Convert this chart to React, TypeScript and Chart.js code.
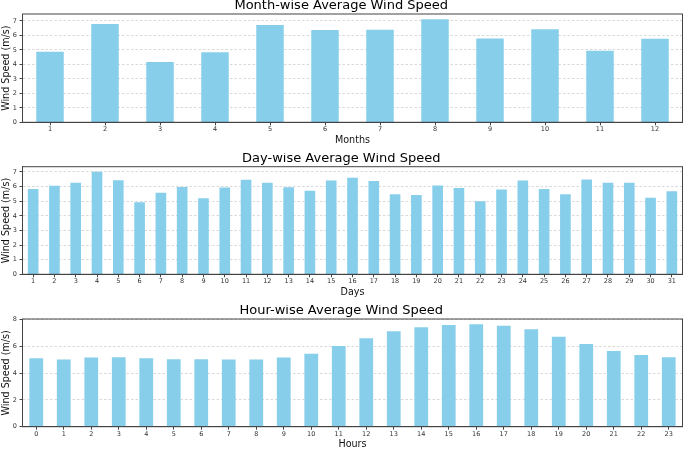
import React, { useEffect, useRef } from 'react';
import { Chart, registerables } from 'chart.js';

Chart.register(...registerables);

const monthLabels = ['1', '2', '3', '4', '5', '6', '7', '8', '9', '10', '11', '12'];
const monthValues = [4.87, 6.78, 4.16, 4.83, 6.71, 6.37, 6.39, 7.12, 5.79, 6.43, 4.94, 5.77];

const dayLabels = ['1', '2', '3', '4', '5', '6', '7', '8', '9', '10', '11', '12', '13', '14', '15', '16',
  '17', '18', '19', '20', '21', '22', '23', '24', '25', '26', '27', '28', '29', '30', '31'];
const dayValues = [5.84, 6.05, 6.26, 7.01, 6.44, 4.93, 5.57, 5.98, 5.21, 5.94, 6.46, 6.26, 5.96, 5.71, 6.42,
  6.60, 6.39, 5.48, 5.43, 6.07, 5.91, 5.00, 5.80, 6.42, 5.84, 5.48, 6.48, 6.26, 6.26, 5.23, 5.68];

const hourLabels = ['0', '1', '2', '3', '4', '5', '6', '7', '8', '9', '10', '11', '12', '13', '14', '15',
  '16', '17', '18', '19', '20', '21', '22', '23'];
const hourValues = [5.12, 5.02, 5.17, 5.19, 5.12, 5.04, 5.04, 5.02, 5.02, 5.17, 5.46, 6.04, 6.61, 7.13,
  7.43, 7.60, 7.67, 7.55, 7.28, 6.73, 6.18, 5.66, 5.37, 5.19];

const monthYTicks = [0, 1, 2, 3, 4, 5, 6, 7];
const dayYTicks = [0, 1, 2, 3, 4, 5, 6, 7];
const hourYTicks = [0, 2, 4, 6, 8];

const FONT = "'DejaVu Sans', 'Noto Sans', sans-serif";
const BAR = '#87CEEB';
const DARK = '#444444';
const PLOT_LEFT = 22.5;
const PLOT_RIGHT_PAD = 2.5;

const framePlugin = {
  id: 'frame',
  afterDatasetsDraw(chart: any) {
    const { ctx, chartArea: a } = chart;
    ctx.save();
    ctx.strokeStyle = DARK;
    ctx.lineWidth = 1;
    ctx.strokeRect(a.left, a.top, a.right - a.left, a.bottom - a.top);
    ctx.restore();
  },
};

type Box = { top: number; height: number; plotTop: number; plotBottom: number };

function Panel(props: {
  title: string;
  xTitle: string;
  labels: string[];
  values: number[];
  yTicks: number[];
  box: Box;
}) {
  const ref = useRef<HTMLCanvasElement | null>(null);
  useEffect(() => {
    if (!ref.current) return;
    const { box } = props;
    const titleSize = 13;
    const titleLH = 0.85;
    const titleBox = titleSize * titleLH;
    const titleCenter = box.plotTop - 8.5;
    const tPadTop = Math.max(0, titleCenter - titleBox / 2);
    const tPadBottom = box.plotTop - tPadTop - titleBox;
    const axSize = 9.6;
    const xLH = 0.9;
    const xTitlePad = box.height - (box.plotBottom + 17.7) - (axSize * xLH) / 2;

    const chart = new Chart(ref.current, {
      type: 'bar',
      data: {
        labels: props.labels,
        datasets: [
          {
            data: props.values,
            backgroundColor: BAR,
            borderWidth: 0,
            barPercentage: 0.5,
            categoryPercentage: 1.0,
          },
        ],
      },
      options: {
        animation: false,
        responsive: true,
        maintainAspectRatio: false,
        layout: { padding: { top: 0, left: 0, right: PLOT_RIGHT_PAD, bottom: 0 } },
        plugins: {
          legend: { display: false },
          tooltip: { enabled: false },
          title: {
            display: true,
            text: props.title,
            color: '#000',
            font: { family: FONT, size: titleSize, weight: 'normal', lineHeight: titleLH },
            padding: { top: tPadTop, bottom: tPadBottom },
          },
        },
        scales: {
          x: {
            type: 'category',
            offset: true,
            afterFit: (s: any) => {
              s.height = box.height - box.plotBottom;
            },
            ticks: {
              autoSkip: false,
              maxRotation: 0,
              minRotation: 0,
              color: '#333',
              font: { family: FONT, size: 6.5 },
              padding: 0.5,
            },
            grid: {
              display: true,
              drawOnChartArea: false,
              drawTicks: true,
              tickLength: 3,
              tickColor: DARK,
              tickWidth: 1,
              offset: false,
            },
            border: { display: true, color: DARK, width: 1 },
            title: {
              display: true,
              text: props.xTitle,
              color: '#111',
              font: { family: FONT, size: axSize, lineHeight: xLH },
              padding: { top: 0, bottom: xTitlePad },
            },
          },
          y: {
            type: 'linear',
            min: 0,
            max: Math.max(...props.values) * 1.05,
            afterBuildTicks: (s: any) => {
              s.ticks = props.yTicks.map((v) => ({ value: v }));
            },
            afterFit: (s: any) => {
              s.width = PLOT_LEFT;
            },
            ticks: {
              color: '#333',
              font: { family: FONT, size: 6.5 },
              padding: 2.5,
            },
            grid: {
              color: '#cfcfcf',
              lineWidth: 0.8,
              drawTicks: true,
              tickLength: 3,
              tickColor: DARK,
              tickWidth: 1,
              tickBorderDash: [],
            },
            border: { display: true, color: DARK, width: 1, dash: [2.5, 2] },
            title: {
              display: true,
              text: 'Wind Speed (m/s)',
              color: '#111',
              font: { family: FONT, size: axSize, lineHeight: 1.2 },
              padding: { top: 0.3, bottom: 0 },
            },
          },
        },
      },
      plugins: [framePlugin],
    } as any);
    return () => chart.destroy();
  }, []);

  const { box } = props;
  return (
    <div style={{ position: 'absolute', left: 0, top: box.top, width: 685, height: box.height }}>
      <canvas ref={ref} />
    </div>
  );
}

export default function App() {
  return (
    <div
      style={{
        position: 'fixed',
        left: 0,
        top: 0,
        width: 685,
        height: 449,
        background: '#fff',
        overflow: 'hidden',
      }}
    >
      <Panel
        title="Month-wise Average Wind Speed"
        xTitle="Months"
        labels={monthLabels}
        values={monthValues}
        yTicks={monthYTicks}
        box={{ top: 0, height: 152, plotTop: 14, plotBottom: 122.3 }}
      />
      <Panel
        title="Day-wise Average Wind Speed"
        xTitle="Days"
        labels={dayLabels}
        values={dayValues}
        yTicks={dayYTicks}
        box={{ top: 153, height: 152, plotTop: 13.7, plotBottom: 121.3 }}
      />
      <Panel
        title="Hour-wise Average Wind Speed"
        xTitle="Hours"
        labels={hourLabels}
        values={hourValues}
        yTicks={hourYTicks}
        box={{ top: 305, height: 144, plotTop: 14, plotBottom: 121.7 }}
      />
    </div>
  );
}
